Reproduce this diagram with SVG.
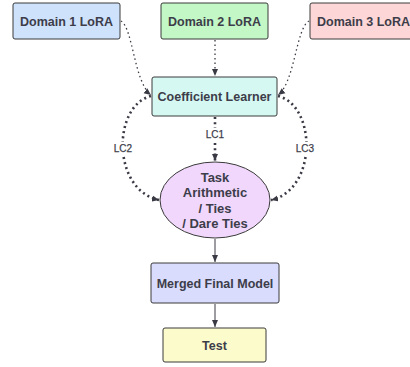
<svg xmlns="http://www.w3.org/2000/svg" width="410" height="367" viewBox="0 0 410 367">
<style>
.box{stroke:#3a3a3a;stroke-width:1}
.t{font-family:"Liberation Sans",Arial,sans-serif;font-weight:bold;font-size:12.5px;fill:#3d3d4a;text-anchor:middle}
.lbl{font-family:"Liberation Sans",Arial,sans-serif;font-size:10px;fill:#3d3d4a;text-anchor:middle;stroke:#3d3d4a;stroke-width:0.25}
.thin{fill:none;stroke:#3a3a45;stroke-width:1.3;stroke-dasharray:1.5 3}
.thick{fill:none;stroke:#3a3a45;stroke-width:2.6;stroke-dasharray:2 3.2}
.solid{fill:none;stroke:#3a3a45;stroke-width:1}
</style>
<defs>
<marker id="ah" markerUnits="userSpaceOnUse" markerWidth="8" markerHeight="8" viewBox="0 0 8 8" refX="7" refY="4" orient="auto">
<path d="M0,1 L7,4 L0,7 Z" fill="#3a3a45"/>
</marker>
</defs>
<rect width="410" height="367" fill="#ffffff"/>
<g id="connectors">
<path class="thin" d="M121,21 C133,28 134,82 151,95" marker-end="url(#ah)"/>
<path class="thin" d="M215,40 L215,76" marker-end="url(#ah)"/>
<path class="thin" d="M309,21 C296,28 295,82 278,95" marker-end="url(#ah)"/>
<path class="thick" d="M151,96 C112,106 112,190 159,200" marker-end="url(#ah)"/>
<path class="thick" d="M278,96 C317,106 317,190 271,200" marker-end="url(#ah)"/>
<path class="thick" d="M215,117 L215,161" marker-end="url(#ah)"/>
<rect x="205" y="128" width="20" height="12" fill="#ffffff"/>
<text class="lbl" x="215" y="137.5">LC1</text>
<rect x="113" y="142" width="20" height="12" fill="#ffffff"/>
<text class="lbl" x="123" y="151.5">LC2</text>
<rect x="295" y="142" width="20" height="12" fill="#ffffff"/>
<text class="lbl" x="305" y="151.5">LC3</text>
<path class="solid" d="M215,239 L215,262" marker-end="url(#ah)"/>
<path class="solid" d="M215,304 L215,327" marker-end="url(#ah)"/>
</g>
<g id="domain1">
<rect class="box" x="13" y="3" width="107" height="36" rx="2" fill="#cfe2fc"/>
<text class="t" x="66.5" y="25.5">Domain 1 LoRA</text>
</g>
<g id="domain2">
<rect class="box" x="161" y="3" width="107" height="36" rx="2" fill="#c3f7c6"/>
<text class="t" x="214.5" y="25.5">Domain 2 LoRA</text>
</g>
<g id="domain3">
<rect class="box" x="310" y="3" width="107" height="36" rx="2" fill="#fdd7d7"/>
<text class="t" x="363.5" y="25.5">Domain 3 LoRA</text>
</g>
<g id="coef">
<rect class="box" x="152" y="77" width="125" height="39" rx="2" fill="#d5f9f2"/>
<text class="t" x="214.5" y="100.5">Coefficient Learner</text>
</g>
<g id="merge">
<ellipse class="box" cx="215" cy="200" rx="55" ry="38" fill="#f0d7fb"/>
<text class="t" x="215" y="181.5" style="font-size:13px">Task</text>
<text class="t" x="215" y="197" style="font-size:13px">Arithmetic</text>
<text class="t" x="215" y="212.5" style="font-size:13px">/ Ties</text>
<text class="t" x="215" y="228" style="font-size:13px">/ Dare Ties</text>
</g>
<g id="final">
<rect class="box" x="151" y="263" width="128" height="40" rx="2" fill="#d9dcfc"/>
<text class="t" x="215" y="287.5">Merged Final Model</text>
</g>
<g id="test">
<rect class="box" x="163" y="328" width="103" height="34" rx="2" fill="#fcfbcc"/>
<text class="t" x="214.5" y="349.5">Test</text>
</g>
</svg>
